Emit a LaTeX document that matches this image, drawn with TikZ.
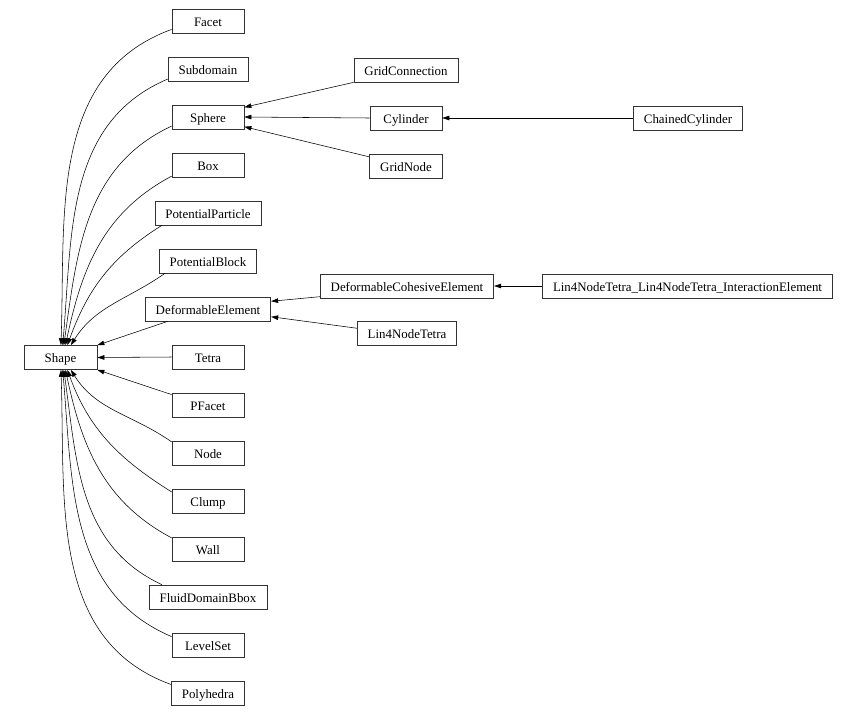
\documentclass[tikz,border=0pt]{standalone}
\usepackage{fontspec}
\setmainfont{Liberation Serif}
\usetikzlibrary{arrows.meta}

\begin{document}
\begin{tikzpicture}[x=1pt, y=1pt, >={Triangle[length=7pt,width=4.6pt]},
    cls/.style={draw=black!80, line width=0.7pt, minimum width=72pt, minimum height=24pt,
                inner xsep=10.5pt, inner ysep=0pt, text height=12pt, text depth=2pt,
                font=\fontsize{12.9}{15}\selectfont},
    inh/.style={->, line width=0.55pt}]
    \useasboundingbox (0,0) rectangle (858,-716);

    % base class
    \node[cls, minimum width=73pt] (shape) at (60.5,-357.5) {Shape};

    % direct subclasses, one column
    \foreach \n/\t [count=\k from 0] in {facet/Facet, subdomain/Subdomain, sphere/Sphere, box/Box,
        potparticle/PotentialParticle, potblock/PotentialBlock, defelem/DeformableElement,
        tetra/Tetra, pfacet/PFacet, nodecls/Node, clump/Clump, wall/Wall,
        fluidbox/FluidDomainBbox, levelset/LevelSet, polyhedra/Polyhedra} {
        \node[cls] (\n) at (208,-21-48*\k) {\t};
    }

    % second and third level
    \node[cls] (gridconn) at (406,-70) {GridConnection};
    \node[cls] (cylinder) at (406,-118) {Cylinder};
    \node[cls] (gridnode) at (406,-166) {GridNode};
    \node[cls] (chained) at (688,-118) {ChainedCylinder};
    \node[cls] (cohesive) at (407,-286) {DeformableCohesiveElement};
    \node[cls] (lin4) at (407,-333.5) {Lin4NodeTetra};
    \node[cls] (lin4inter) at (687.5,-286) {Lin4NodeTetra\_Lin4NodeTetra\_InteractionElement};

    % curved edges into Shape, above
    \foreach \n/\a/\o/\i/\e in {facet/193/200/88/88, subdomain/194/203/85/80, sphere/194/205/82/75,
        box/197/208/78/68, potparticle/195/212/70/61, potblock/196/215/58/50} {
        \draw[inh] (\n.\a) to[out=\o, in=\i] (shape.\e);
    }
    % curved edges into Shape, below
    \foreach \n/\a/\o/\i/\e in {polyhedra/167/160/-88/-88, levelset/167/157/-85/-80, fluidbox/165/155/-82/-75,
        wall/163/152/-78/-68, clump/166/148/-70/-61, nodecls/163/145/-58/-50} {
        \draw[inh] (\n.\a) to[out=\o, in=\i] (shape.\e);
    }

    % straight edges
    \draw[inh] (defelem.197) -- (shape.north east);
    \draw[inh] (tetra.west) -- (shape.east);
    \draw[inh] (pfacet.164) -- (shape.south east);
    \draw[inh] (gridconn.south west) -- (sphere.15);
    \draw[inh] (cylinder.west) -- (sphere.east);
    \draw[inh] (gridnode.166) -- (sphere.-15);
    \draw[inh] (chained.west) -- (cylinder.east);
    \draw[inh] (cohesive.187) -- (defelem.7);
    \draw[inh] (lin4.174) -- (defelem.-7.5);
    \draw[inh] (lin4inter.west) -- (cohesive.east);
\end{tikzpicture}
\end{document}
